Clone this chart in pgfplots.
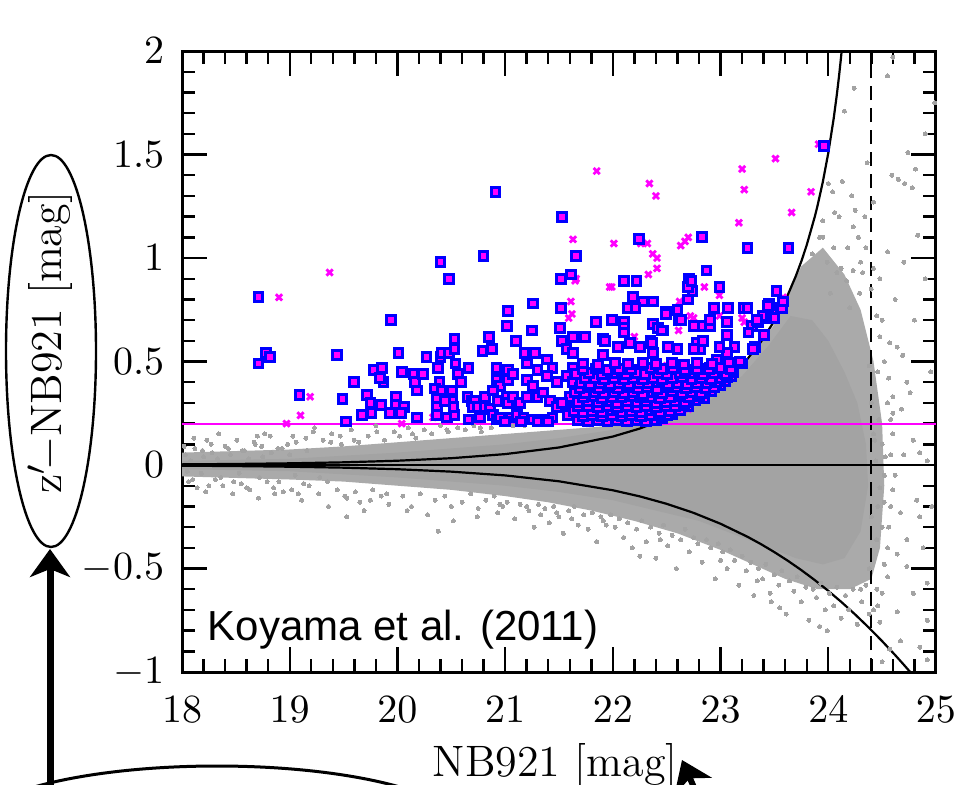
\documentclass[border=0pt]{standalone}
\usepackage{pgfplots}
\pgfplotsset{compat=1.18}
\usepackage{fontspec}
\usetikzlibrary{arrows.meta}
\newfontfamily\arialfont{Liberation Sans}
\definecolor{dotgray}{RGB}{163,163,163}
\definecolor{nbmag}{RGB}{255,0,255}
\definecolor{nbblue}{RGB}{0,0,255}

\begin{document}
\begin{tikzpicture}
\useasboundingbox (0,0) rectangle (240.25pt,196pt);
\clip (0,0) rectangle (240.25pt,196pt);

\begin{axis}[
  at={(45.5pt,28pt)}, anchor=south west,
  scale only axis, width=188.5pt, height=155.25pt,
  xmin=18, xmax=25, ymin=-1, ymax=2,
  xtick={18,19,...,25},
  ytick={-1,-0.5,0,0.5,1,1.5,2},
  minor x tick num=4, minor y tick num=4,
  tick align=inside,
  major tick length=6.25pt, minor tick length=3.25pt,
  every tick/.style={black, line width=0.6pt},
  axis line style={line width=0.75pt},
  tick label style={font=\fontsize{9.7}{11}\selectfont},
  xticklabel style={inner sep=0pt, yshift=-6pt},
  yticklabel style={inner sep=0pt, xshift=-4.25pt},
  label style={font=\fontsize{11}{13}\selectfont},
  xlabel={NB921 [mag]},
  xlabel style={at={(axis description cs:0.495,-0.15)}, anchor=center},
  ylabel={z$'\!-$NB921 [mag]},
  ylabel style={at={(axis description cs:-0.175,0.53)}, anchor=center, rotate=0},
  clip=true,
]

% outer, speckled part of the field population
\addplot[fill=dotgray!92, draw=none] coordinates {
 (18,0.06) (19,0.075) (19.5,0.09) (20,0.11) (20.5,0.13) (21,0.15) (21.5,0.17) (22,0.19)
 (22.4,0.21) (22.75,0.29) (23,0.38) (23.25,0.5) (23.5,0.68) (23.75,0.96) (23.95,1.05)
 (24.15,0.92) (24.3,0.75) (24.42,0.5) (24.5,0.2) (24.52,-0.1) (24.48,-0.4) (24.4,-0.55)
 (24.2,-0.6) (23.9,-0.6) (23.6,-0.55) (23.3,-0.48) (23.0,-0.41) (22.6,-0.33) (22.2,-0.27)
 (21.8,-0.22) (21.4,-0.18) (21.0,-0.15) (20.5,-0.12) (20.0,-0.1) (19.5,-0.08) (19.0,-0.07) (18,-0.055)
} -- cycle;

% dense core of the field population
\addplot[fill=dotgray, draw=none] coordinates {
 (18.0,0.02) (18.5,0.025) (19.0,0.03) (19.5,0.045) (20.0,0.06) (20.5,0.08) (21.0,0.1) (21.5,0.13)
 (22.0,0.17) (22.3,0.2) (22.6,0.24) (22.9,0.31) (23.2,0.43) (23.45,0.58) (23.65,0.72) (23.85,0.7)
 (24.0,0.6) (24.15,0.45) (24.27,0.3) (24.35,0.1) (24.37,-0.1) (24.3,-0.32) (24.15,-0.45)
 (23.95,-0.48) (23.7,-0.45) (23.4,-0.39) (23.1,-0.33) (22.8,-0.27) (22.4,-0.22) (22.0,-0.17)
 (21.5,-0.13) (21.0,-0.1) (20.5,-0.08) (20.0,-0.06) (19.5,-0.045) (19.0,-0.03) (18.5,-0.025) (18.0,-0.02)
} -- cycle;

% individual field objects
\addplot[only marks, mark=*, mark size=0.5pt, mark options={fill=dotgray, draw=dotgray, line width=0pt}] coordinates {
 (18.03,0.05) (18.05,-0.03) (18.08,0.02) (18.1,-0.07) (18.12,0.08) (18.18,-0.04) (18.2,0.04)
 (18.23,0.12) (18.25,-0.1) (18.28,0.06) (18.33,0.03) (18.36,-0.06) (18.4,0.09)
 (18.45,0.05) (18.48,-0.08) (18.53,-0.04) (18.56,0.07) (18.6,-0.11) (18.62,0.03)
 (18.68,0.1) (18.7,0.14) (18.72,-0.06) (18.75,0.04) (18.77,0.15) (18.83,0.06) (18.86,-0.14)
 (18.9,-0.08) (18.93,0.08) (19.0,0.05) (19.03,0.14) (19.05,-0.05) (19.08,-0.14)
 (19.13,-0.09) (19.16,0.07) (19.22,0.16) (19.28,-0.06)
 (18.02,0.09) (18.06,-0.08) (18.11,0.13) (18.14,-0.11) (18.19,0.07) (18.22,-0.13) (18.27,0.1) (18.31,-0.07)
 (18.34,0.15) (18.38,-0.1) (18.43,0.08) (18.47,-0.14) (18.51,0.12) (18.55,-0.09) (18.58,0.07) (18.63,-0.12)
 (18.67,0.11) (18.71,-0.16) (18.74,0.09) (18.79,-0.08) (18.82,0.14) (18.85,-0.11) (18.89,0.08) (18.94,-0.13)
 (18.98,0.1) (19.02,-0.12) (19.06,0.11) (19.11,-0.17) (19.15,0.13) (19.18,-0.1) (19.23,0.18) (19.27,-0.14)
 (19.31,0.12) (19.36,-0.2) (19.39,0.15) (19.44,-0.12) (19.48,0.1) (19.53,-0.16) (19.57,0.17) (19.61,-0.13)
 (19.64,0.11) (19.69,-0.22) (19.73,0.14) (19.77,-0.12) (19.8,0.19) (19.85,-0.15) (19.88,0.12) (19.92,-0.19)
 (19.97,0.16) (19.35,-0.08) (19.38,0.11) (19.47,0.14) (19.51,-0.15) (19.53,-0.25) (19.6,0.12) (19.65,-0.18)
 (19.75,-0.17) (19.81,0.16) (19.9,-0.14) (20.09,-0.22) (20.14,0.15) (20.38,-0.32) (20.46,0.17)
 (20.52,-0.27) (20.75,-0.21) (20.77,0.18) (20.93,-0.23) (20.95,-0.19) (21.2,-0.2) (21.33,-0.24) (21.48,-0.23)
 (20.02,0.14) (20.05,-0.15) (20.1,0.18) (20.13,-0.2) (20.17,0.13) (20.21,-0.14) (20.25,0.17) (20.28,-0.24)
 (20.32,0.15) (20.35,-0.17) (20.4,0.19) (20.44,-0.15) (20.47,0.16) (20.5,-0.2) (20.56,0.18) (20.6,-0.18)
 (20.63,0.17) (20.68,-0.14) (20.71,0.19) (20.74,-0.25) (20.78,0.16) (20.82,-0.17) (20.87,0.18) (20.9,-0.15)
 (20.98,-0.2) (21.02,-0.18) (21.07,0.19) (21.09,-0.26) (21.14,-0.19) (21.18,0.19) (21.22,-0.22) (21.27,-0.3)
 (21.31,-0.19) (21.37,-0.21) (21.41,-0.28) (21.45,-0.2) (21.5,-0.25) (21.54,-0.33) (21.59,-0.22) (21.64,-0.2)
 (21.68,-0.29) (21.73,-0.24) (21.77,-0.31) (21.81,-0.23) (21.85,-0.37) (21.89,-0.25) (21.94,-0.29) (21.98,-0.24)
 (21.62,-0.26) (21.91,-0.27) (22.25,-0.44) (22.44,-0.36)
 (22.02,-0.3) (22.06,-0.26) (22.1,-0.35) (22.14,-0.28) (22.18,-0.4) (22.22,-0.31) (22.27,-0.27) (22.31,-0.37)
 (22.35,-0.3) (22.4,-0.45) (22.43,-0.33) (22.47,-0.29) (22.51,-0.39) (22.55,-0.34) (22.59,-0.5) (22.63,-0.36)
 (22.67,-0.31) (22.71,-0.42) (22.75,-0.35) (22.79,-0.38) (22.83,-0.47) (22.87,-0.36) (22.91,-0.4) (22.95,-0.55)
 (22.98,-0.38) (23.0,-0.46)
 (23.02,-0.42) (23.06,-0.5) (23.09,-0.41) (23.13,-0.46) (23.17,-0.58) (23.2,-0.44) (23.24,-0.51) (23.28,-0.47)
 (23.31,-0.63) (23.35,-0.5) (23.39,-0.55) (23.42,-0.48) (23.47,-0.66) (23.5,-0.53) (23.54,-0.58) (23.57,-0.51)
 (23.61,-0.72) (23.64,-0.56) (23.68,-0.61) (23.71,-0.54) (23.75,-0.66) (23.79,-0.59) (23.82,-0.75) (23.86,-0.6)
 (23.89,-0.64) (23.93,-0.57) (23.97,-0.7) (23.34,-0.56) (23.46,-0.62) (23.55,-0.69) (23.92,-0.78) (23.99,-0.8)
 (24.01,-0.62) (24.05,-0.68) (24.08,-0.59) (24.12,-0.74) (24.16,-0.63) (24.19,-0.7) (24.23,-0.6) (24.27,-0.77)
 (24.31,-0.66) (24.35,-0.58) (24.38,-0.72) (24.3,-0.6) (24.42,-0.7)
 (23.85,1.02) (23.95,1.18) (24.05,1.05) (24.1,1.2) (24.18,1.05) (24.22,1.3) (24.28,1.1) (24.3,0.98)
 (24.35,1.05) (24.12,0.95) (24.4,0.85) (24.45,0.72) (24.42,0.95) (24.48,0.62) (24.52,0.5) (24.56,0.42)
 (24.6,0.25) (24.62,-0.05) (24.58,-0.2) (24.55,-0.4) (24.52,-0.48) (24.5,-0.62) (24.46,-0.68)
 (23.99,0.98) (24.08,0.93) (24.17,0.89) (24.23,0.94) (24.32,0.93) (24.29,0.83) (24.2,0.76)
 (24.02,0.83) (23.92,1.10) (23.95,1.10) (24.04,1.32) (24.13,1.37) (24.0,1.36) (24.06,1.22) (24.23,1.15)
 (24.25,1.23) (24.34,1.20) (24.36,1.46) (24.42,1.27) (24.15,1.71) (24.24,1.82) (24.55,1.88) (24.6,1.97)
 (24.55,1.03) (24.38,0.48) (24.4,0.3) (24.42,0.15) (24.4,-0.25) (24.38,-0.5)
 (24.44,0.02) (24.46,-0.2) (24.47,0.22) (24.5,0.1) (24.52,-0.18) (24.55,0.3) (24.56,-0.3) (24.58,0.05)
 (24.45,-0.36) (24.48,-0.11) (24.6,-0.12) (24.67,-0.23) (24.85,-0.25) (24.64,-0.43) (24.73,-0.49) (24.55,-0.54)
 (24.92,-0.57) (24.79,-0.62) (24.45,-0.6) (24.64,-0.71) (24.48,-0.76) (24.92,-0.75) (24.85,-0.88) (24.67,-0.85)
 (24.92,-0.94) (24.57,-0.89) (24.73,-0.36) (24.82,-0.17) (24.53,0.04) (24.43,0.12) (24.6,0.15) (24.57,0.59)
 (24.69,0.53) (24.64,0.57) (24.73,0.4) (24.6,0.33) (24.76,0.35) (24.68,0.27) (24.85,0.06) (24.79,0.12)
 (24.92,0.02) (24.74,1.51) (24.81,1.43) (24.59,1.4) (24.65,1.38) (24.71,1.36) (24.78,1.34) (24.83,1.11)
 (24.99,1.75) (24.5,0.7) (24.62,0.8) (24.9,0.9) (24.95,0.45) (24.5,-0.3) (24.52,-0.05) (24.58,0.22)
 (24.7,0.05) (24.88,-0.4) (24.96,-0.2) (24.46,0.45) (24.48,0.9) (24.9,1.6) (24.7,0.98) (24.5,-0.95) (24.8,0.7)
};

% zero colour line
\addplot[black, line width=0.5pt] coordinates {(18,0) (25,0)};

% 3-sigma excess curves
\addplot[black, line width=0.55pt] coordinates {
 (18,0.0032) (18.5,0.0051) (19,0.0082) (19.5,0.0130) (20,0.0207) (20.5,0.0329) (21,0.0527) (21.5,0.0847)
 (22,0.1375) (22.25,0.1761) (22.5,0.2268) (22.75,0.2941) (23,0.3853) (23.25,0.5122) (23.375,0.5952)
 (23.5,0.6965) (23.625,0.8227) (23.7,0.9144) (23.75,0.9843) (23.8,1.0626) (23.875,1.1999) (23.9,1.2522)
 (23.95,1.369) (24,1.507) (24.05,1.673) (24.08,1.791) (24.1,1.879) (24.115,1.952) (24.125,2.003)
};
\addplot[black, line width=0.55pt] coordinates {
 (18,-0.0032) (18.5,-0.0051) (19,-0.0082) (19.5,-0.0128) (20,-0.0203) (20.5,-0.0320) (21,-0.0502)
 (21.5,-0.0786) (22,-0.1220) (22.25,-0.1515) (22.5,-0.1875) (22.75,-0.2312) (23,-0.2838) (23.25,-0.3466)
 (23.375,-0.3822) (23.5,-0.4209) (23.625,-0.4626) (23.75,-0.5077) (23.875,-0.5560) (24,-0.6079)
 (24.125,-0.6632) (24.25,-0.7222) (24.375,-0.7847) (24.5,-0.8508) (24.625,-0.9205) (24.7,-0.9640)
 (24.76,-0.9997) (24.8,-1.0239)
};

% limiting magnitude
\addplot[black, line width=0.4pt, dash pattern=on 3.5pt off 2pt] coordinates {(24.394,-1) (24.394,2)};

% colour cut
\addplot[nbmag, line width=0.55pt] coordinates {(18,0.2) (25,0.2)};

% colour-selected objects
\addplot[only marks, mark=x, mark size=1.1pt, mark options={nbmag, line width=0.7pt}] coordinates {
 (18.9,0.81) (19.37,0.93) (18.97,0.2) (19.1,0.24) (19.19,0.33) (20.04,0.2) (20.33,0.23) (21.63,1.09)
 (21.65,0.89) (21.61,0.79) (21.62,0.73) (21.59,0.71) (21.85,1.42) (22.34,1.36) (22.4,1.30) (23.2,1.43)
 (23.22,1.33) (23.51,1.48) (23.84,1.32) (23.66,1.22) (23.17,1.17) (23.91,1.55) (22.01,1.07) (22.26,1.07)
 (22.32,1.07) (22.63,1.06) (22.67,1.08) (22.70,1.10) (22.37,1.02) (22.41,1.0) (22.41,0.95) (22.33,0.92)
 (21.97,0.86) (21.99,0.86) (21.66,0.9) (22.85,0.86) (22.99,0.82) (23.58,0.81) (22.72,0.72) (22.75,0.71)
 (22.62,0.79) (22.61,0.65) (23.2,0.71) (23.22,0.69) (22.99,0.72) (22.2,0.62) (22.5,0.48) (23.0,0.5)
 (21.8,0.3) (22.6,0.4) (22.2,0.21) (21.9,0.22) (22.7,0.27)
};

% NB emitters
\addplot[only marks, mark=square*, mark size=1.1pt, mark options={draw=nbblue, fill=nbmag, line width=0.75pt}] coordinates {
 (18.71,0.81) (18.71,0.49) (18.78,0.54) (18.82,0.52) (19.09,0.34) (19.44,0.53) (19.49,0.32) (19.52,0.21)
 (19.6,0.40) (19.78,0.46) (19.86,0.47) (19.87,0.40) (19.84,0.42) (19.72,0.34) (19.75,0.30) (19.85,0.29)
 (19.76,0.25) (19.67,0.24) (19.94,0.70) (20.01,0.54) (20.04,0.45) (19.99,0.33) (19.99,0.29) (20.06,0.28)
 (20.03,0.25) (19.93,0.25) (20.18,0.23) (20.15,0.44) (20.16,0.40) (20.24,0.44) (20.18,0.36) (20.27,0.52)
 (20.40,0.52) (20.41,0.54) (20.48,0.54) (20.53,0.60) (20.53,0.56) (20.38,0.47) (20.39,0.40) (20.35,0.37)
 (20.37,0.32) (20.37,0.28) (20.37,0.24) (20.46,0.23) (20.53,0.24) (20.41,0.36) (20.51,0.36) (20.51,0.31)
 (20.52,0.28) (20.44,0.31) (20.54,0.49) (20.56,0.44) (20.59,0.40) (20.66,0.47) (20.65,0.33) (20.69,0.31)
 (20.72,0.31) (20.70,0.28) (20.75,0.28) (20.77,0.23) (20.66,0.22) (20.79,0.55) (20.88,0.56) (20.85,0.62)
 (20.81,0.33) (20.81,0.28) (20.86,0.27) (20.89,0.24) (20.92,0.22) (20.92,0.47) (20.92,0.41) (20.95,0.38)
 (21.03,0.46) (21.03,0.41) (21.07,0.44) (20.89,0.36) (20.93,0.31) (21.02,0.33) (21.03,0.30) (21.07,0.33)
 (21.11,0.28) (21.14,0.30) (20.95,0.23) (21.05,0.23) (21.11,0.24) (21.17,0.23) (21.26,0.22) (21.35,0.22)
 (21.44,0.23) (21.0,0.21) (21.15,0.21) (21.3,0.21) (21.4,0.21) (21.10,0.60) (21.18,0.54) (21.28,0.54)
 (21.25,0.65) (21.39,0.51) (21.44,0.47) (21.39,0.43) (21.48,0.40) (21.20,0.49) (21.30,0.46) (21.20,0.41)
 (21.26,0.38) (21.30,0.33) (21.35,0.35) (21.20,0.33) (21.42,0.31) (21.48,0.28) (21.51,0.66) (21.53,0.60)
 (21.57,0.56) (21.63,0.62) (21.63,0.54) (21.63,0.47) (21.57,0.43) (21.63,0.40) (21.60,0.33) (21.63,0.27)
 (21.53,0.30) (21.58,0.24)
 (20.91,1.32) (21.53,1.20) (20.80,1.01) (20.40,0.98) (20.48,0.90) (21.66,1.01) (21.61,0.92) (21.52,0.90)
 (21.03,0.745) (21.26,0.78) (21.52,0.76) (21.02,0.67) (20.53,0.61) (22.24,1.09) (22.83,1.10) (23.25,1.05)
 (23.63,1.05) (23.96,1.54) (22.87,0.94) (22.10,0.89) (22.22,0.89) (22.71,0.90) (22.99,0.86) (23.52,0.84)
 (22.74,0.84) (22.70,0.86) (22.19,0.81) (22.28,0.79) (22.37,0.79) (22.14,0.76) (22.21,0.76) (22.49,0.74)
 (22.60,0.75) (22.94,0.76) (23.07,0.76) (23.22,0.76) (23.25,0.76) (23.45,0.78) (23.55,0.76) (23.49,0.74)
 (21.84,0.69) (21.99,0.70) (22.10,0.69) (22.10,0.66) (22.10,0.64) (22.37,0.68) (22.42,0.66) (22.47,0.65)
 (22.61,0.70) (22.75,0.67) (22.84,0.67) (22.90,0.67) (22.90,0.70) (23.06,0.69) (23.06,0.63) (23.29,0.67)
 (23.26,0.64) (23.35,0.69) (23.40,0.71) (23.48,0.73) (21.74,0.62) (21.91,0.61) (22.35,0.60) (22.78,0.59)
 (23.44,0.77) (23.57,0.76) (23.39,0.72) (23.34,0.70) (23.32,0.57) (23.13,0.57) (23.06,0.54) (22.99,0.57)
 (22.97,0.51) (22.90,0.47) (22.81,0.56) (22.75,0.56) (22.84,0.60) (22.51,0.57) (22.60,0.56) (22.37,0.54)
 (22.25,0.57) (22.36,0.59) (22.16,0.59) (22.05,0.57) (21.93,0.60) (21.91,0.53) (22.46,0.65) (22.49,0.73)
 (22.63,0.70) (22.70,0.80) (22.73,0.89)
 (22.55,0.245) (22.7,0.285) (22.85,0.325) (23.0,0.385) (23.1,0.43) (23.2,0.49) (23.3,0.56) (23.4,0.63)
 (23.5,0.71) (23.58,0.79)
 (21.68,0.215) (21.77,0.212) (21.86,0.218) (21.95,0.213) (22.04,0.216) (22.13,0.212) (22.22,0.217)
 (22.31,0.214) (22.4,0.218) (22.46,0.225)
 (21.72,0.238) (21.81,0.24) (21.9,0.236) (21.99,0.241) (22.08,0.237) (22.17,0.24) (22.26,0.235)
 (22.35,0.239) (22.44,0.242) (22.5,0.24)
 (21.64,0.26) (21.72,0.255) (21.81,0.262) (21.9,0.258) (21.99,0.263) (22.08,0.256) (22.17,0.261)
 (22.26,0.257) (22.35,0.263) (22.44,0.258) (22.53,0.262) (22.62,0.265)
 (21.68,0.283) (21.77,0.286) (21.86,0.281) (21.95,0.285) (22.04,0.28) (22.13,0.287) (22.22,0.282)
 (22.31,0.284) (22.4,0.279) (22.49,0.286) (22.58,0.283) (22.66,0.288)
 (21.68,0.305) (21.77,0.31) (21.86,0.302) (21.95,0.307) (22.04,0.3) (22.13,0.309) (22.22,0.303)
 (22.31,0.308) (22.4,0.301) (22.49,0.306) (22.58,0.31) (22.67,0.304) (22.76,0.312)
 (21.72,0.328) (21.81,0.331) (21.9,0.325) (21.99,0.33) (22.08,0.326) (22.17,0.332) (22.26,0.327)
 (22.35,0.33) (22.44,0.324) (22.53,0.329) (22.62,0.333) (22.71,0.326) (22.8,0.331)
 (21.65,0.35) (21.74,0.346) (21.83,0.353) (21.92,0.348) (22.01,0.354) (22.1,0.347) (22.19,0.352)
 (22.28,0.345) (22.37,0.351) (22.46,0.349) (22.55,0.355) (22.64,0.346) (22.73,0.352) (22.82,0.348)
 (22.91,0.356)
 (21.69,0.373) (21.78,0.376) (21.87,0.37) (21.96,0.374) (22.05,0.371) (22.14,0.377) (22.23,0.372)
 (22.32,0.375) (22.41,0.369) (22.5,0.374) (22.59,0.378) (22.68,0.371) (22.77,0.375) (22.86,0.372)
 (22.94,0.377)
 (21.7,0.395) (21.79,0.392) (21.88,0.398) (21.97,0.393) (22.06,0.397) (22.15,0.391) (22.24,0.396)
 (22.33,0.394) (22.42,0.399) (22.51,0.392) (22.6,0.396) (22.69,0.393) (22.78,0.398) (22.87,0.394)
 (22.96,0.401) (23.04,0.405)
 (21.74,0.418) (21.83,0.421) (21.92,0.415) (22.01,0.419) (22.1,0.416) (22.19,0.422) (22.28,0.417)
 (22.37,0.42) (22.46,0.414) (22.55,0.419) (22.64,0.423) (22.73,0.416) (22.82,0.42) (22.91,0.417)
 (23.0,0.421) (23.06,0.425)
 (21.66,0.44) (21.78,0.445) (21.9,0.438) (22.0,0.443) (22.12,0.437) (22.22,0.446) (22.3,0.44)
 (22.42,0.444) (22.5,0.437) (22.62,0.442) (22.72,0.446) (22.84,0.439) (22.94,0.444) (23.05,0.441)
 (23.12,0.448)
 (21.72,0.463) (21.84,0.466) (21.95,0.46) (22.06,0.465) (22.17,0.461) (22.35,0.467) (22.46,0.462)
 (22.56,0.466) (22.67,0.46) (22.78,0.465) (22.89,0.462) (23.0,0.467) (23.1,0.464)
 (21.72,0.49) (21.86,0.485) (22.02,0.492) (22.14,0.487) (22.28,0.494) (22.4,0.488) (22.55,0.491)
 (22.66,0.486) (22.78,0.493) (22.92,0.489) (23.08,0.495) (23.18,0.5)
};

\node[anchor=base west, inner sep=0pt, font=\arialfont\fontsize{10.5}{12}\selectfont]
  at (axis description cs:0.033,0.0515) {Koyama et al. (2011)};
\end{axis}

% call-outs drawn in image pixel units (origin top left)
\begin{scope}[x=0.25pt, y=-0.25pt, yshift=196pt]
  \draw[line width=0.6pt] (51,351) ellipse [x radius=45, y radius=196];
  \draw[line width=1.75pt, -{Stealth[length=7pt, width=10pt, inset=2pt]}] (50,800) -- (50,549);
  \draw[line width=0.75pt] (217,832) ellipse [x radius=250, y radius=66];
  \draw[line width=1.5pt, -{Stealth[length=7pt, width=10pt, inset=2pt]}] (706,815) -- (682,760);
\end{scope}
\end{tikzpicture}
\end{document}
